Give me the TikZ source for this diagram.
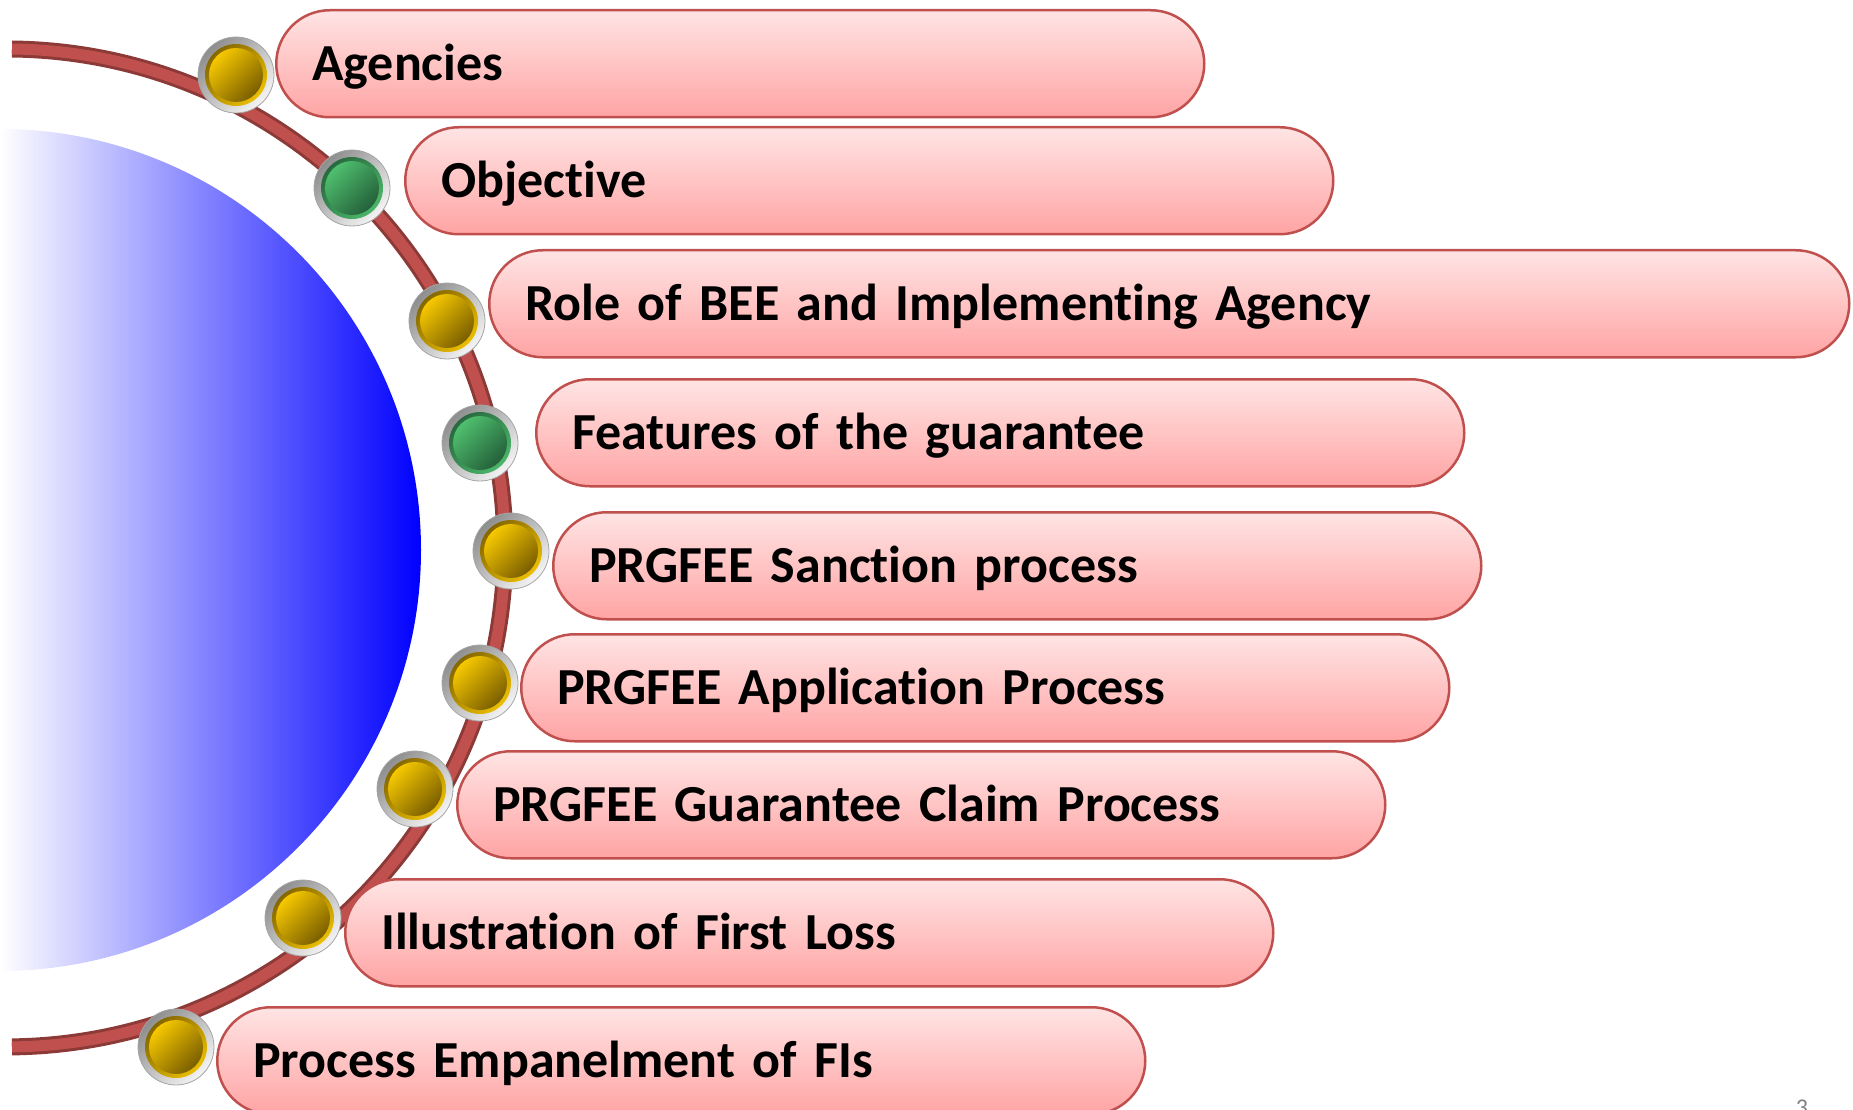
\documentclass[tikz,border=0pt]{standalone}
\usepackage{fontspec}
\setmainfont{Carlito}[Ligatures=NoCommon]
\definecolor{arcred}{HTML}{C0504D}
\definecolor{arcdark}{HTML}{8C3A37}
\definecolor{barline}{HTML}{C0504D}
\definecolor{bartop}{HTML}{FFE4E4}
\definecolor{barbottom}{HTML}{FFA4A4}
\definecolor{goldlight}{HTML}{F6C800}
\definecolor{golddark}{HTML}{7A5E00}
\definecolor{greenlight}{HTML}{4FBF6E}
\definecolor{greendark}{HTML}{24603A}
\definecolor{ringlight}{HTML}{F4F4F4}
\definecolor{ringdark}{HTML}{8E8E8E}
\begin{document}
\begin{tikzpicture}[x=1pt, y=-1pt,
		item/.style={rounded corners=53.5pt, draw=barline, line width=2.5pt, top color=bartop, bottom color=barbottom,
			minimum height=107pt, inner xsep=36pt, inner ysep=0pt, text width=856pt, align=left, anchor=north west,
			font=\fontsize{52}{60}\selectfont\bfseries, text height=33pt, text depth=0pt},
		wideitem/.style={item, text width=1288pt},
		bullet/.style={circle, minimum size=76pt, inner sep=0pt, draw=ringdark!80, line width=0.8pt,
			top color=ringdark, bottom color=ringlight, shading angle=45},
		goldbullet/.style={bullet, path picture={
				\shade[top color=golddark, bottom color=goldlight, shading angle=45] (path picture bounding box.center) circle (31pt);
				\shade[top color=goldlight, bottom color=golddark, shading angle=45] (path picture bounding box.center) circle (27pt);}},
		greenbullet/.style={bullet, path picture={
				\shade[top color=greendark, bottom color=greenlight, shading angle=45] (path picture bounding box.center) circle (31pt);
				\shade[top color=greenlight, bottom color=greendark, shading angle=45] (path picture bounding box.center) circle (27pt);}},
		rail/.style={draw=arcdark, line width=3pt, double=arcred, double distance=11pt}]
		    \useasboundingbox (0,0) rectangle (1853,1110);
		    % blue half disc
		    \begin{scope}
		        \clip (0,550) circle (421pt);
		        \shade[left color=white, middle color=blue!26, right color=blue] (0,120) rectangle (421,980);
		    \end{scope}
		    % rail
		    \draw[rail] (12,49) arc[start angle=89.3, end angle=-89.3, radius=499pt];

		    \node[item] (b1) at (275,9) {Agencies};
		    \node[item] (b2) at (404,126) {Objective};
		    \node[wideitem] (b3) at (488,249) {Role of BEE and Implementing Agency};
		    \node[item] (b4) at (535,378) {Features of the guarantee};
		    \node[item] (b5) at (552,511) {PRGFEE Sanction process};
		    \node[item] (b6) at (520,633) {PRGFEE Application Process};
		    \node[item] (b7) at (456,750) {PRGFEE Guarantee Claim Process};
		    \node[item] (b8) at (344,878) {Illustration of First Loss};
		    \node[item] (b9) at (216,1006) {Process Empanelment of FIs};

		    \node[goldbullet] (d1) at (236,75) {};
		    \node[greenbullet] (d2) at (352,188) {};
		    \node[goldbullet] (d3) at (447,321) {};
		    \node[greenbullet] (d4) at (480,443) {};
		    \node[goldbullet] (d5) at (511,551) {};
		    \node[goldbullet] (d6) at (480,683) {};
		    \node[goldbullet] (d7) at (415,789) {};
		    \node[goldbullet] (d8) at (303,918) {};
		    \node[goldbullet] (d9) at (176,1047) {};

		    \node[anchor=north, text=gray, font=\fontsize{24}{28}\selectfont] (pg) at (1802,1096) {3};
		\end{tikzpicture}
\end{document}
